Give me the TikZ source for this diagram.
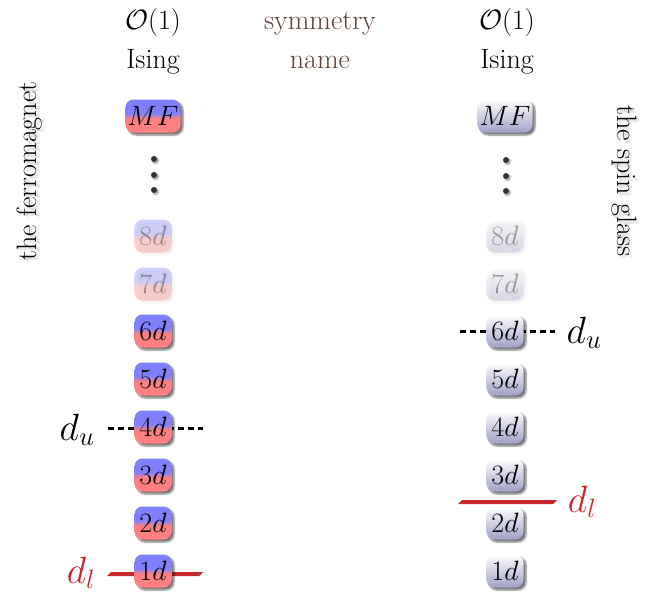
\RequirePackage{fix-cm}
\documentclass[tikz,border=0pt]{standalone}
\usetikzlibrary{shadows.blur,backgrounds,calc}
\definecolor{fblue}{RGB}{128,128,255}
\definecolor{fred}{RGB}{255,128,128}
\definecolor{sgbot}{RGB}{160,160,200}
\definecolor{brownish}{RGB}{92,64,51}
\definecolor{dlred}{RGB}{200,40,45}
\pgfdeclareverticalshading{ferro}{100bp}{color(0bp)=(fred); color(25bp)=(fred); color(46bp)=(fred); color(54bp)=(fblue); color(75bp)=(fblue); color(100bp)=(fblue)}
\tikzset{
  big/.style={font=\fontsize{28}{34}\selectfont},
  hdr/.style={big, inner sep=0pt, anchor=base},
  dlbl/.style={font=\fontsize{38}{46}\selectfont, inner sep=0pt, anchor=base},
  boxbase/.style={big, rounded corners=8pt, minimum width=37pt, minimum height=33pt, inner sep=2pt},
  shad/.style={blur shadow={shadow xshift=2.5pt, shadow yshift=-2.5pt, shadow blur steps=6, shadow opacity=55}},
  lshad/.style={blur shadow={shadow xshift=2.5pt, shadow yshift=-2.5pt, shadow blur steps=6, shadow opacity=15}},
  ferrobox/.style={boxbase, shading=ferro, shad},
  glassbox/.style={boxbase, top color=white, bottom color=sgbot, shad},
  fferro/.style={boxbase, shading=ferro, lshad, opacity=0.35},
  fglass/.style={boxbase, top color=white, bottom color=sgbot, lshad, opacity=0.35},
  vdot/.style={circle, fill=black!80, inner sep=0pt, minimum size=6pt, blur shadow={shadow xshift=1.5pt, shadow yshift=-1.5pt, shadow blur steps=4, shadow opacity=40}},
  dashln/.style={line width=3pt, dash pattern=on 6pt off 4pt},
  redbar/.style={fill=dlred},
  sidelbl/.style={big, inner sep=0pt},
  ghost/.style={big, inner sep=0pt, text=black, text opacity=0.07}
}
\begin{document}
\begin{tikzpicture}[x=1pt, y=-1pt]
\useasboundingbox (0,0) rectangle (645,594);

% headers
\node[hdr] (o1l) at (153,30) {$\mathcal{O}(1)$};
\node[hdr] (isl) at (153,68) {Ising};
\node[hdr, text=brownish] (sym) at (320,30) {symmetry};
\node[hdr, text=brownish] (nam) at (320,68) {name};
\node[hdr] (o1r) at (507,30) {$\mathcal{O}(1)$};
\node[hdr] (isr) at (507,68) {Ising};

% side labels with soft shadows
\foreach \s in {1.5,2.5,3.5}{
  \node[ghost, rotate=90] at (30+\s,171+\s) {the ferromagnet};
  \node[ghost, rotate=-90] at (624+\s,181+\s) {the spin glass};
}
\node[sidelbl, rotate=90] (fer) at (30,171) {the ferromagnet};
\node[sidelbl, rotate=-90] (sg) at (624,181) {the spin glass};

% left column
\node[ferrobox] (lmf) at (153,116) {$MF$};
\node[vdot] (ld1) at (154,159) {};
\node[vdot] (ld2) at (154,175) {};
\node[vdot] (ld3) at (154,190) {};
\node[fferro] (l8) at (153,236) {$8d$};
\node[fferro] (l7) at (153,284) {$7d$};
\node[ferrobox] (l6) at (153,331) {$6d$};
\node[ferrobox] (l5) at (153,379) {$5d$};
\node[ferrobox] (l4) at (153,427) {$4d$};
\node[ferrobox] (l3) at (153,475) {$3d$};
\node[ferrobox] (l2) at (153,523) {$2d$};
\node[ferrobox] (l1) at (153,571) {$1d$};

% right column
\node[glassbox] (rmf) at (505,116) {$MF$};
\node[vdot] (rd1) at (506,160) {};
\node[vdot] (rd2) at (506,176) {};
\node[vdot] (rd3) at (506,191) {};
\node[fglass] (r8) at (505,236) {$8d$};
\node[fglass] (r7) at (505,284) {$7d$};
\node[glassbox] (r6) at (505,331) {$6d$};
\node[glassbox] (r5) at (505,379) {$5d$};
\node[glassbox] (r4) at (505,427) {$4d$};
\node[glassbox] (r3) at (505,475) {$3d$};
\node[glassbox] (r2) at (505,523) {$2d$};
\node[glassbox] (r1) at (505,571) {$1d$};

% markers
\node[dlbl] (dul) at (77,440) {$d_u$};
\node[dlbl] (dur) at (584,343) {$d_u$};
\node[dlbl, text=dlred] (dll) at (81,583) {$d_l$};
\node[dlbl, text=dlred] (dlr) at (582,512) {$d_l$};

\begin{scope}[on background layer]
  \draw[dashln] ($(l4.center)+(-45,1)$) -- ($(l4.center)+(50,1)$);
  \draw[dashln] ($(r6.center)+(-45,0)$) -- ($(r6.center)+(50,0)$);
  \fill[redbar] ($(l1.center)+(-46,5)$) -- ($(l1.center)+(-42,1)$) -- ($(l1.center)+(50,1)$) -- ($(l1.center)+(46,5)$) -- cycle;
  \fill[redbar] ($(r2.center)+(-47,-19)$) -- ($(r2.center)+(-43,-23)$) -- ($(r2.center)+(52,-23)$) -- ($(r2.center)+(48,-19)$) -- cycle;
\end{scope}
\end{tikzpicture}
\end{document}
